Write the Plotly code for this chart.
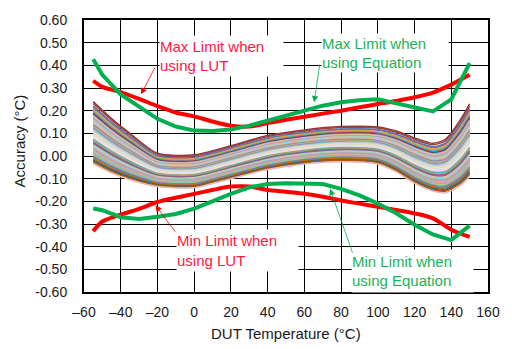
import plotly.graph_objects as go

# Temperature sweep (°C) for the per-device accuracy band
band_temps = [-55, -45, -35, -20, 0, 20, 40, 60, 80, 100, 110, 120, 130, 137, 145, 150]
band_top = [0.24, 0.165, 0.10, 0.012, 0.005, 0.045, 0.09, 0.115, 0.13, 0.128, 0.11, 0.08, 0.056, 0.075, 0.16, 0.23]
band_bottom = [-0.035, -0.075, -0.105, -0.135, -0.14, -0.10, -0.06, -0.035, -0.025, -0.035, -0.07, -0.12, -0.155, -0.162, -0.13, -0.09]

# Relative position of each device within the band (0 = lowest, 1 = highest)
device_pos = [1.00, 0.97, 0.93, 0.91, 0.88, 0.86, 0.84, 0.82, 0.80, 0.78,
              0.76, 0.74, 0.72, 0.70, 0.69, 0.67, 0.65, 0.63, 0.61, 0.60,
              0.58, 0.56, 0.54, 0.53, 0.51, 0.49, 0.47, 0.46, 0.44, 0.42,
              0.40, 0.39, 0.37, 0.35, 0.33, 0.32, 0.30, 0.28, 0.26, 0.25,
              0.23, 0.21, 0.19, 0.17, 0.15, 0.13, 0.11, 0.09, 0.07, 0.05,
              0.03, 0.00]
device_colors = ['#943634', '#A0413E', '#4F81BD', '#8064A2', '#F79646', '#9BBB59',
                 '#4BACC6', '#C0504D', '#2C4D75', '#B3A2C7', '#FAC090', '#95B3D7',
                 '#D99694', '#C3D69B', '#93CDDD', '#CCC1DA', '#F9AB6B', '#729ACA',
                 '#CD7371', '#AFC97A', '#9983B5', '#6FBDD1', '#E6B9B8', '#B9CDE5',
                 '#D7E4BD', '#FCD5B5', '#B7DEE8', '#E6E0EC', '#F2DCDB', '#DCE6F2',
                 '#F79646', '#4BACC6', '#9BBB59', '#8064A2', '#C0504D', '#4F81BD',
                 '#FAC090', '#93CDDD', '#C3D69B', '#B3A2C7', '#D99694', '#95B3D7',
                 '#F9AB6B', '#6FBDD1', '#AFC97A', '#9983B5', '#4F81BD', '#E46C0A',
                 '#5F7530', '#376092', '#B65708', '#E6B9B8']

# Guaranteed accuracy limits
limit_temps = [-55, -50, -40, -30, -20, -10, 0, 10, 20, 30, 40, 50, 60, 70,
               80, 90, 100, 110, 120, 130, 140, 150]
max_lut = [0.332, 0.305, 0.282, 0.252, 0.22, 0.192, 0.175, 0.152, 0.134, 0.13, 0.145,
           0.16, 0.173, 0.187, 0.2, 0.215, 0.229, 0.243, 0.259, 0.28, 0.315, 0.358]
min_lut = [-0.332, -0.289, -0.259, -0.233, -0.203, -0.184, -0.167, -0.15, -0.135, -0.135,
           -0.15, -0.158, -0.167, -0.18, -0.196, -0.21, -0.224, -0.238, -0.253, -0.275,
           -0.325, -0.357]
max_eq = [0.427, 0.358, 0.272, 0.216, 0.164, 0.13, 0.112, 0.11, 0.117, 0.134, 0.156,
          0.18, 0.203, 0.222, 0.237, 0.246, 0.25, 0.233, 0.212, 0.197, 0.25, 0.41]
min_eq = [-0.232, -0.239, -0.27, -0.278, -0.268, -0.256, -0.232, -0.198, -0.167, -0.138,
          -0.124, -0.12, -0.121, -0.124, -0.145, -0.174, -0.21, -0.253, -0.303, -0.346,
          -0.371, -0.307]

x_ticks = [-60, -40, -20, 0, 20, 40, 60, 80, 100, 120, 140, 160]
x_ticktext = ['–60', '–40', '–20', '0', '20', '40', '60', '80', '100', '120', '140', '160']
y_ticks = [0.6, 0.5, 0.4, 0.3, 0.2, 0.1, 0.0, -0.1, -0.2, -0.3, -0.4, -0.5, -0.6]
y_ticktext = ['0.60', '0.50', '0.40', '0.30', '0.20', '0.10', '0.00', '-0.10', '-0.20',
              '-0.30', '-0.40', '-0.50', '-0.60']

RED = '#ff0000'
GREEN = '#00b050'
RED_TEXT = '#ff1744'
GREEN_TEXT = '#1bb35a'

fig = go.Figure()

for pos, color in zip(device_pos, device_colors):
    ys = [b + pos * (t - b) for t, b in zip(band_top, band_bottom)]
    fig.add_trace(go.Scatter(x=band_temps, y=ys, mode='lines',
                             line=dict(color=color, width=1.5, shape='spline', smoothing=0.7),
                             hoverinfo='skip'))

fig.add_trace(go.Scatter(x=limit_temps, y=max_lut, mode='lines',
                         line=dict(color=RED, width=4, shape='spline', smoothing=0.8)))
fig.add_trace(go.Scatter(x=limit_temps, y=min_lut, mode='lines',
                         line=dict(color=RED, width=4, shape='spline', smoothing=0.8)))
fig.add_trace(go.Scatter(x=limit_temps, y=max_eq, mode='lines',
                         line=dict(color=GREEN, width=4)))
fig.add_trace(go.Scatter(x=limit_temps, y=min_eq, mode='lines',
                         line=dict(color=GREEN, width=4)))

label_font = dict(family='Liberation Sans, Arial, sans-serif', size=15)

# Label boxes
boxes = [
    ('Max Limit when<br>using LUT', 14.7, 0.44, 123, 40, RED_TEXT),
    ('Max Limit when<br>using Equation', 103.8, 0.453, 126, 38, GREEN_TEXT),
    ('Min Limit when<br>using LUT', 23.8, -0.416, 121, 41, RED_TEXT),
    ('Min Limit when<br>using Equation', 119.1, -0.509, 121, 42, GREEN_TEXT),
]
for text, bx, by, w, h, col in boxes:
    fig.add_annotation(x=bx, y=by, xref='x', yref='y', text=text, showarrow=False,
                       bgcolor='white', width=w, height=h, borderpad=0,
                       font=dict(label_font, color=col), align='left')

# Pointer arrows
arrows = [
    (-29.0, 0.272, -20.9, 0.397, RED),
    (65.3, 0.237, 68.5, 0.41, GREEN),
    (-21.1, -0.217, -9.7, -0.341, RED),
    (74.0, -0.145, 86.5, -0.433, GREEN),
]
for hx, hy, tx, ty, col in arrows:
    fig.add_annotation(x=hx, y=hy, ax=tx, ay=ty, xref='x', yref='y', axref='x', ayref='y',
                       text='', showarrow=True, arrowhead=2, arrowsize=1.6,
                       arrowwidth=0.8, arrowcolor=col)

# Axis titles
fig.add_annotation(x=-0.1606, y=0.554, xref='paper', yref='paper', text='Accuracy (°C)',
                   textangle=-90, showarrow=False, xanchor='center', yanchor='middle',
                   font=dict(label_font, color='#1a1a1a'))
fig.add_annotation(x=0.5, y=-0.151, xref='paper', yref='paper', text='DUT Temperature (°C)',
                   showarrow=False, xanchor='center', yanchor='middle',
                   font=dict(label_font, color='#1a1a1a'))

fig.update_layout(
    width=512, height=349,
    margin=dict(l=84, r=17, t=14, b=57),
    plot_bgcolor='white', paper_bgcolor='white',
    showlegend=False,
    font=dict(family='Liberation Sans, Arial, sans-serif', size=14, color='#1a1a1a'),
)
fig.update_xaxes(range=[-60, 160], tickvals=x_ticks, ticktext=x_ticktext,
                 showgrid=True, gridcolor='black', gridwidth=1.3, zeroline=False,
                 showline=True, linecolor='black', linewidth=2, mirror=True,
                 ticks='', ticklabelstandoff=6)
fig.update_yaxes(range=[-0.6, 0.6], tickvals=y_ticks, ticktext=y_ticktext,
                 showgrid=True, gridcolor='black', gridwidth=1.3, zeroline=False,
                 showline=True, linecolor='black', linewidth=2, mirror=True,
                 ticks='', ticklabelstandoff=12)

fig.write_html('out.html')
